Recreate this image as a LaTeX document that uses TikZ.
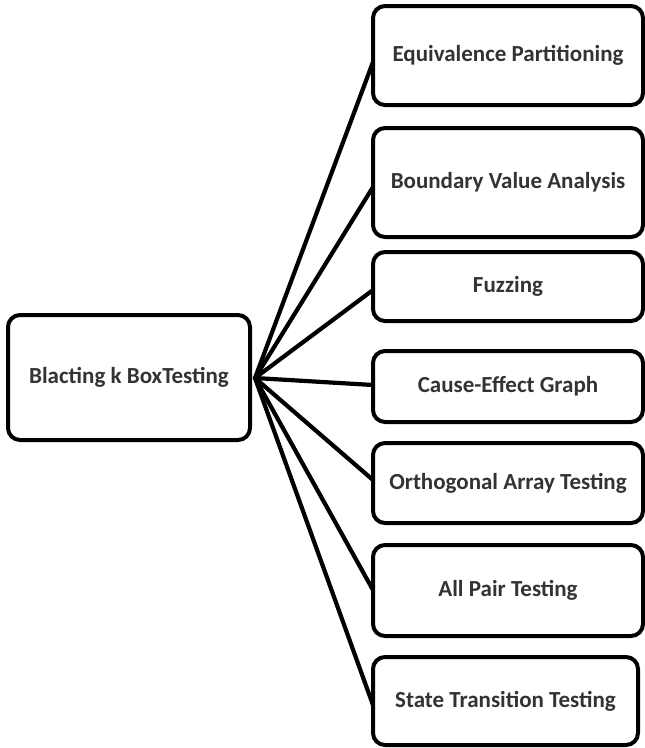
\documentclass[tikz,border=0pt]{standalone}
\usepackage{fontspec}
\setmainfont{Carlito}
\usetikzlibrary{calc}
\definecolor{txt}{HTML}{333333}
\begin{document}
\begin{tikzpicture}[x=1pt,y=-1pt,
  box/.style={draw=black,line width=4pt,rounded corners=12pt,fill=white,
    inner sep=0pt,font=\fontsize{23}{26}\selectfont\bfseries,text=txt},
  conn/.style={line width=4.2pt,line cap=round}]
\useasboundingbox (0,0) rectangle (645,748);
\node[box,minimum width=242pt,minimum height=125pt] (root) at (129,377.5) {Blacting k BoxTesting};
\node[box,minimum width=270pt,minimum height=99pt] (b1) at (508,55.5) {Equivalence Partitioning};
\node[box,minimum width=270pt,minimum height=109pt] (b2) at (508,182.5) {Boundary Value Analysis};
\node[box,minimum width=270pt,minimum height=69pt] (b3) at (508,286.5) {Fuzzing};
\node[box,minimum width=270pt,minimum height=71pt] (b4) at (508,386.5) {Cause-Effect Graph};
\node[box,minimum width=270pt,minimum height=80pt] (b5) at (508,483) {Orthogonal Array Testing};
\node[box,minimum width=270pt,minimum height=91pt] (b6) at (508,590.5) {All Pair Testing};
\node[box,minimum width=265pt,minimum height=88pt] (b7) at (505.5,701) {State Transition Testing};
\coordinate (hub) at ($(root.east)+(3,0.5)$);
\draw[conn] (hub) -- ($(b1.west)+(2,6.5)$);
\draw[conn] (hub) -- ($(b2.west)+(2,4.5)$);
\draw[conn] (hub) -- ($(b3.west)+(2,3.5)$);
\draw[conn] (hub) -- ($(b4.west)+(2,-1.5)$);
\draw[conn] (hub) -- ($(b5.west)+(2,-3)$);
\draw[conn] (hub) -- ($(b6.west)+(2,-0.5)$);
\draw[conn] (hub) -- ($(b7.west)+(2,4)$);
\end{tikzpicture}
\end{document}
